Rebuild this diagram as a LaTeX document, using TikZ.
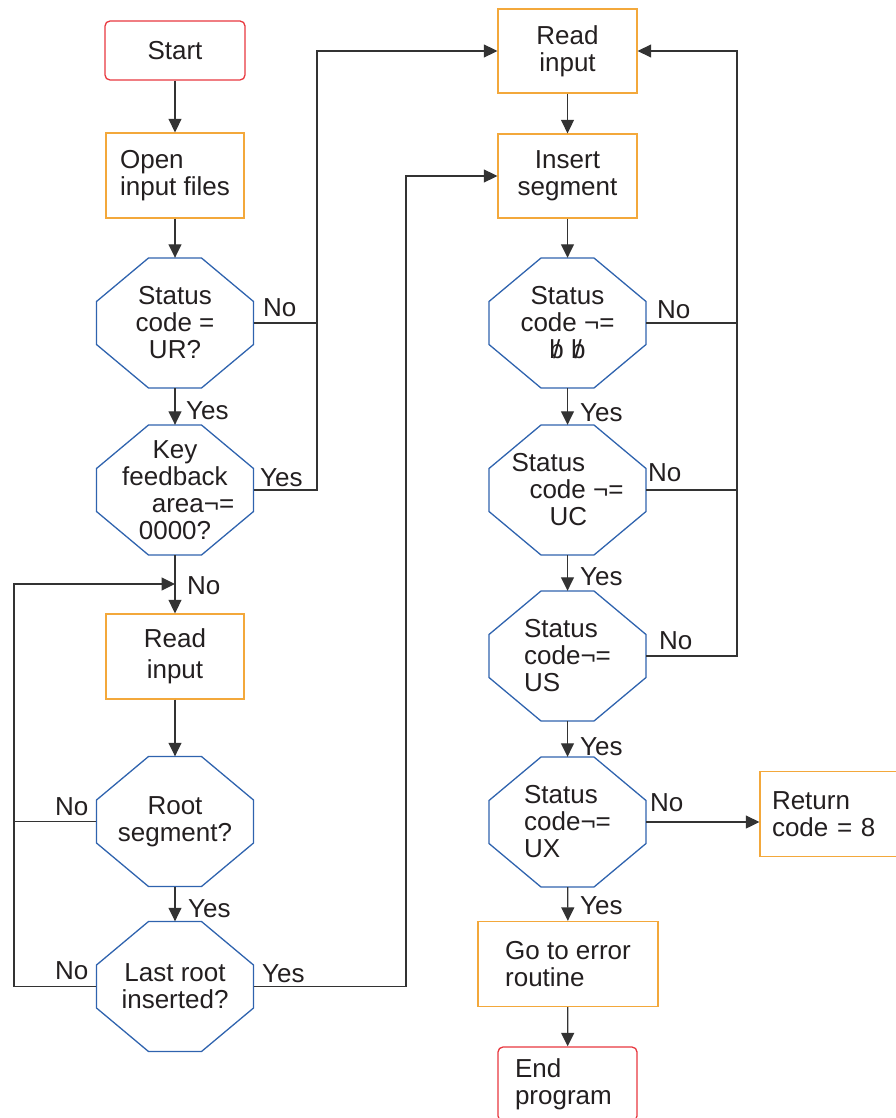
\documentclass[tikz,border=0pt]{standalone}
\usepackage{fontspec}
\setmainfont{Liberation Sans}
\usetikzlibrary{calc,arrows.meta}
\definecolor{cred}{HTML}{E8383F}
\definecolor{corange}{HTML}{F3A83B}
\definecolor{cblue}{HTML}{2F63AE}
\definecolor{cline}{HTML}{333333}
\definecolor{ctext}{HTML}{231F20}
\newcommand{\bslash}{\ooalign{b\cr\hidewidth/\hidewidth}}
\newcommand{\octdraw}[1]{\draw[octline] ($(#1.center)+(-26.5,-65)$) -- ($(#1.center)+(26.5,-65)$) -- ($(#1.center)+(78.5,-21.5)$) -- ($(#1.center)+(78.5,21.5)$) -- ($(#1.center)+(26.5,65)$) -- ($(#1.center)+(-26.5,65)$) -- ($(#1.center)+(-78.5,21.5)$) -- ($(#1.center)+(-78.5,-21.5)$) -- cycle;}
\tikzset{
  txt/.style={font=\fontsize{26pt}{27pt}\selectfont, text=ctext},
  termbox/.style={txt, draw=cred, line width=1.3pt, rounded corners=5pt, align=center, inner sep=0pt},
  procbox/.style={txt, draw=corange, line width=1.3pt, align=center, inner sep=0pt},
  octnode/.style={txt, minimum width=157pt, minimum height=130pt, inner sep=0pt, align=center},
  octline/.style={draw=cblue, line width=1.3pt},
  lab/.style={txt, inner sep=0pt, anchor=base west},
  conn/.style={draw=cline, line width=1.3pt},
  arr/.style={conn, -{Triangle[length=13.5pt,width=13pt]}},
}
\begin{document}
\begin{tikzpicture}[x=1pt,y=-1pt]
\useasboundingbox (0,0) rectangle (896,1118);
\clip (0,0) rectangle (896,1118);
% left column
\node[termbox, minimum width=140pt, minimum height=59pt] (start) at (175,50.5) {Start};
\node[procbox, minimum width=138pt, minimum height=85pt, align=left] (open) at (175,175.5) {Open\\input files};
\node[octnode] (o1) at (175,323) {Status\\code =\\UR?};
\node[octnode] (o2) at (175,490) {Key\\feedback\\\hspace*{36pt}area¬=\\0000?};
\node[procbox, minimum width=138pt, minimum height=85pt] (readL) at (175,656.5) {Read\\[4pt]input};
\node[octnode] (root) at (175,821.5) {Root\\segment?};
\node[octnode] (last) at (175,986.5) {Last root\\inserted?};
% right column
\node[procbox, minimum width=139pt, minimum height=84pt] (readR) at (567.5,51) {Read\\input};
\node[procbox, minimum width=139pt, minimum height=84pt] (insert) at (567.5,176) {Insert\\segment};
\node[octnode] (b1) at (567.5,323) {Status\\code ¬=\\\bslash\ \bslash};
\node[octnode, align=left] (b2) at (567.5,490) {Status\\\hspace*{18pt}code ¬=\\\hspace*{38pt}UC};
\node[octnode, align=left] (b3) at (567.5,656) {Status\\code¬=\\US};
\node[octnode, align=left] (b4) at (567.5,822) {Status\\code¬=\\UX};
\node[procbox, minimum width=180pt, minimum height=85pt, align=left] (err) at (568,964) {Go to error\\routine};
\node[termbox, text width=105pt, inner xsep=17pt, minimum height=74pt, align=left] (endp) at (567.5,1084) {End\\program};
\node[procbox, text width=126pt, inner xsep=12pt, minimum height=85pt, align=left] (ret) at (835,814) {Return\\code = 8};
\foreach \n in {o1,o2,root,last,b1,b2,b3,b4} {\octdraw{\n}}
% junction coordinates
\coordinate (jA) at (317,0);
\coordinate (jL) at (14,0);
\coordinate (jM) at (406,0);
\coordinate (jR) at (737,0);
\coordinate (mL) at (175,584);
% connectors
\draw[arr] (start) -- (open);
\draw[arr] (open) -- (o1);
\draw[arr] (o1) -- (o2);
\draw[arr] (o2) -- (readL);
\draw[arr] (readL) -- (root);
\draw[arr] (root) -- (last);
\draw[arr] (o1.east) -- (o1.east -| jA) |- (readR.west);
\draw[conn] (o2.east) -- (o2.east -| jA) -- (o1.east -| jA);
\draw[arr] (last.west) -- (last.west -| jL) |- (mL);
\draw[conn] (root.west) -- (root.west -| jL);
\draw[arr] (last.east) -- (last.east -| jM) |- (insert.west);
\draw[arr] (readR) -- (insert);
\draw[arr] (insert) -- (b1);
\draw[arr] (b1) -- (b2);
\draw[arr] (b2) -- (b3);
\draw[arr] (b3) -- (b4);
\draw[arr] (b4) -- (err);
\draw[arr] (err) -- (endp);
\draw[arr] (b3.east) -- (b3.east -| jR) |- (readR.east);
\draw[conn] (b1.east) -- (b1.east -| jR);
\draw[conn] (b2.east) -- (b2.east -| jR);
\draw[arr] (b4.east) -- (b4.east -| ret.west);
% labels
\node[lab] (l1) at (263,316) {No};
\node[lab] (l2) at (186,419) {Yes};
\node[lab] (l3) at (260,486) {Yes};
\node[lab] (l4) at (187,594) {No};
\node[lab] (l5) at (55,815) {No};
\node[lab] (l6) at (188,917) {Yes};
\node[lab] (l7) at (55,979) {No};
\node[lab] (l8) at (262,982) {Yes};
\node[lab] (l9) at (657,318) {No};
\node[lab] (l10) at (580,421) {Yes};
\node[lab] (l11) at (648,481) {No};
\node[lab] (l12) at (580,585) {Yes};
\node[lab] (l13) at (659,649) {No};
\node[lab] (l14) at (580,755) {Yes};
\node[lab] (l15) at (650,811) {No};
\node[lab] (l16) at (580,914) {Yes};
\end{tikzpicture}
\end{document}
